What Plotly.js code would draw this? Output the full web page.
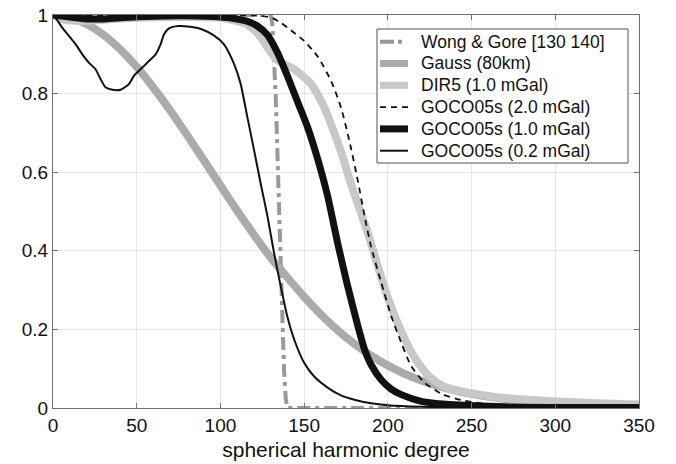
<!DOCTYPE html>
<html>
<head>
<meta charset="utf-8">
<script src="https://cdn.plot.ly/plotly-3.0.1.min.js"></script>
<style>html,body{margin:0;padding:0;background:#fff;}#chart{width:676px;height:464px;}</style>
</head>
<body>
<div id="chart"></div>
<script>
// Wong & Gore [130 140]
const wgDeg = [0, 130, 131, 132, 133, 134, 135, 136, 137, 138, 139, 140, 350];
const wgVal = [1, 1, 0.976, 0.905, 0.794, 0.655, 0.5, 0.345, 0.206, 0.095, 0.024, 0, 0];

// Gauss (80km)
const gaussDeg = [0, 10, 20, 30, 40, 50, 60, 70, 80, 90, 100, 110, 120, 130, 140, 150, 160, 170, 180, 190, 200, 210, 220, 230, 240, 250, 260, 270, 280, 290, 300, 325, 350];
const gaussVal = [1, 0.994, 0.977, 0.950, 0.913, 0.868, 0.815, 0.757, 0.695, 0.631, 0.566, 0.502, 0.441, 0.383, 0.332, 0.283, 0.238, 0.198, 0.163, 0.133, 0.108, 0.087, 0.07, 0.056, 0.045, 0.036, 0.029, 0.023, 0.018, 0.015, 0.012, 0.007, 0.004];

// DIR5 (1.0 mGal)
const dirDeg = [0, 5, 15, 30, 50, 80, 100, 115, 122, 128, 134, 144, 154, 162, 168, 173, 178, 182, 188, 194, 200, 208, 216, 224, 232, 240, 248, 268, 298, 325, 350];
const dirVal = [1, 0.99, 0.985, 0.988, 0.993, 0.995, 0.993, 0.978, 0.955, 0.918, 0.885, 0.862, 0.825, 0.765, 0.70, 0.64, 0.57, 0.52, 0.446, 0.361, 0.28, 0.195, 0.128, 0.083, 0.058, 0.046, 0.039, 0.026, 0.017, 0.012, 0.009];

// GOCO05s (2.0 mGal)
const g2Deg = [0, 60, 120, 130, 136, 140, 150, 158, 166, 172, 177, 182, 186, 190, 196, 202, 208, 214, 222, 232, 244, 256, 270, 300, 350];
const g2Val = [1, 1, 0.999, 0.994, 0.981, 0.968, 0.934, 0.895, 0.833, 0.765, 0.68, 0.58, 0.49, 0.41, 0.32, 0.234, 0.166, 0.106, 0.064, 0.036, 0.02, 0.012, 0.007, 0.003, 0.001];

// GOCO05s (1.0 mGal)
const g1Deg = [0, 10, 20, 30, 40, 60, 80, 100, 110, 116, 122, 128, 134, 140, 146, 152, 158, 164, 170, 176, 182, 186, 190, 196, 202, 208, 220, 240, 270, 350];
const g1Val = [1, 0.995, 0.99, 0.99, 0.993, 0.997, 0.998, 0.995, 0.99, 0.984, 0.972, 0.95, 0.905, 0.845, 0.78, 0.715, 0.635, 0.54, 0.42, 0.31, 0.21, 0.15, 0.11, 0.072, 0.048, 0.034, 0.017, 0.008, 0.003, 0.001];

// GOCO05s (0.2 mGal)
const g02Deg = [0, 2, 5.5, 9.5, 13.5, 17.5, 21.4, 25.4, 28.4, 31.4, 35.4, 40.4, 45.3, 48.3, 52.3, 57.3, 61.3, 64.3, 66.3, 69.3, 75, 82, 88, 96, 102, 108, 112, 116, 120, 124, 128, 132, 136, 140, 144, 150, 156, 164, 172, 180, 190, 200, 220, 250, 300, 350];
const g02Val = [1, 0.99, 0.968, 0.947, 0.926, 0.90, 0.879, 0.862, 0.837, 0.816, 0.81, 0.81, 0.824, 0.845, 0.862, 0.883, 0.90, 0.926, 0.951, 0.966, 0.972, 0.97, 0.965, 0.948, 0.926, 0.877, 0.826, 0.742, 0.658, 0.572, 0.49, 0.395, 0.31, 0.232, 0.175, 0.115, 0.08, 0.052, 0.032, 0.021, 0.012, 0.007, 0.003, 0.001, 0.0005, 0.0002];

const names = ['Wong & Gore [130 140]', 'Gauss (80km)', 'DIR5 (1.0 mGal)', 'GOCO05s (2.0 mGal)', 'GOCO05s (1.0 mGal)', 'GOCO05s (0.2 mGal)'];

const xTicks = [0, 50, 100, 150, 200, 250, 300, 350];
const yTicks = [0, 0.2, 0.4, 0.6, 0.8, 1];
const yTickText = ['0', '0.2', '0.4', '0.6', '0.8', '1'];

const FONT = 'Liberation Sans, Arial, Helvetica, sans-serif';
const W = 676, H = 464;
const M = {l: 53, r: 37, t: 15, b: 56};
const plotW = W - M.l - M.r, plotH = H - M.t - M.b;
const px2x = px => (px - M.l) / plotW;
const px2y = py => (H - M.b - py) / plotH;

const styles = [
  {color: '#999999', width: 4, dash: '13px,5px,4px,5px'},
  {color: '#ababab', width: 8},
  {color: '#c8c8c8', width: 8},
  {color: '#111111', width: 1.8, dash: '6px,5px'},
  {color: '#111111', width: 7},
  {color: '#111111', width: 2}
];
const sp = {shape: 'spline', smoothing: 0.6};
const series = [[wgDeg, wgVal], [gaussDeg, gaussVal], [dirDeg, dirVal], [g2Deg, g2Val], [g1Deg, g1Val], [g02Deg, g02Val]];
const traces = series.map((s, i) => ({
  x: s[0], y: s[1], name: names[i], mode: 'lines', showlegend: false,
  line: Object.assign({}, styles[i], i === 0 ? {} : sp)
}));

// legend drawn as a boxed key (paper coordinates)
const legBox = {x0: 377, x1: 628, y0: 29, y1: 163};
const rowY0 = 41.7, rowStep = 21.8, symX0 = 380, symX1 = 408, textX = 419;
const shapes = [{
  type: 'rect', xref: 'paper', yref: 'paper', layer: 'above',
  x0: px2x(legBox.x0), x1: px2x(legBox.x1), y0: px2y(legBox.y1), y1: px2y(legBox.y0),
  fillcolor: '#ffffff', line: {color: '#555555', width: 1}
}];
const annotations = [];
names.forEach((nm, i) => {
  const yy = px2y(rowY0 + i * rowStep);
  const st = styles[i];
  shapes.push({
    type: 'line', xref: 'paper', yref: 'paper', layer: 'above',
    x0: px2x(symX0), x1: px2x(symX1), y0: yy, y1: yy,
    line: {color: st.color, width: Math.min(st.width, 7), dash: i === 0 ? '14px,4px,4px' : (st.dash || 'solid')}
  });
  annotations.push({
    xref: 'paper', yref: 'paper', x: px2x(textX), y: yy, xanchor: 'left', yanchor: 'middle',
    text: nm, showarrow: false, font: {family: FONT, size: 17.5, color: '#111'}
  });
});

const axisCommon = {
  showgrid: true, gridcolor: '#e6e6e6', gridwidth: 1,
  showline: true, linecolor: '#707070', linewidth: 1, mirror: 'ticks',
  ticks: 'inside', ticklen: 5, tickcolor: '#707070', tickwidth: 1,
  zeroline: false,
  tickfont: {family: FONT, size: 19, color: '#111'}
};

const layout = {
  width: W, height: H,
  margin: M,
  paper_bgcolor: '#ffffff', plot_bgcolor: '#ffffff',
  xaxis: Object.assign({}, axisCommon, {
    range: [0, 350], tickvals: xTicks, ticktext: xTicks.map(String),
    title: {text: 'spherical harmonic degree', font: {family: FONT, size: 21, color: '#111'}, standoff: 7}
  }),
  yaxis: Object.assign({}, axisCommon, {
    range: [0, 1], tickvals: yTicks, ticktext: yTickText
  }),
  showlegend: false,
  shapes: shapes,
  annotations: annotations
};

Plotly.newPlot('chart', traces, layout, {staticPlot: true, displayModeBar: false});
</script>
</body>
</html>
